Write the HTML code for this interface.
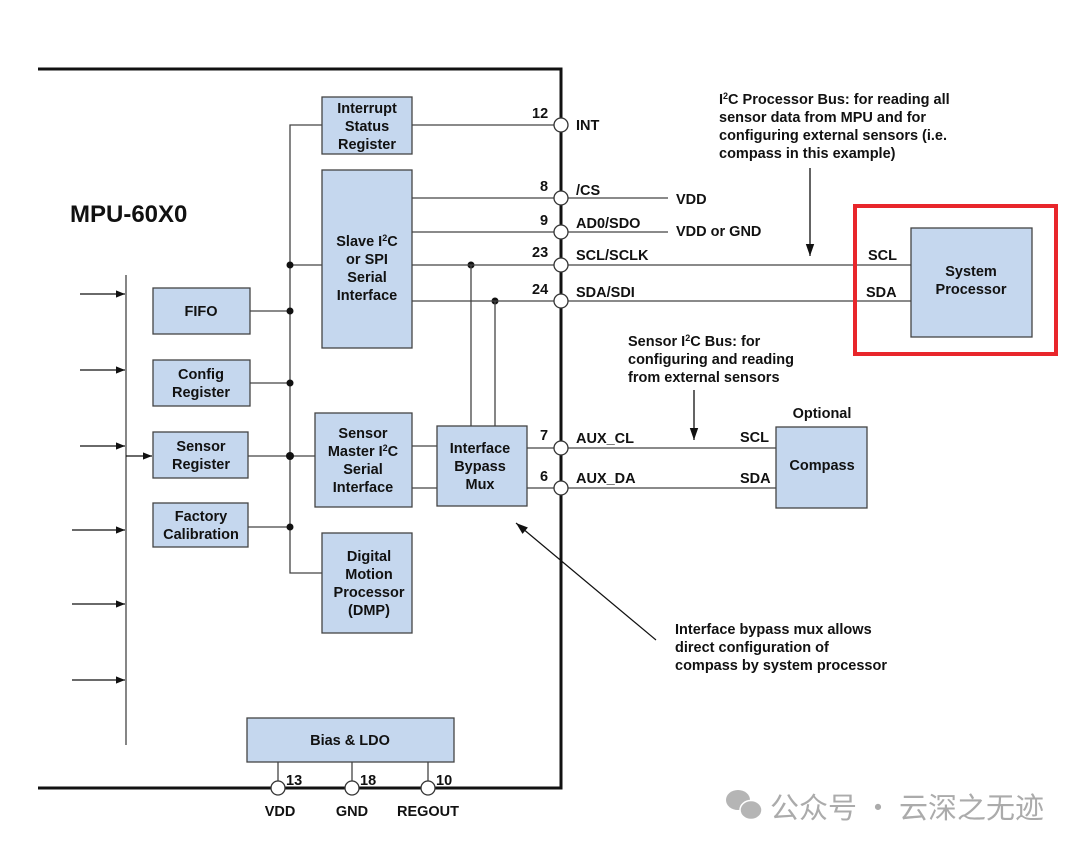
<!DOCTYPE html>
<html><head><meta charset="utf-8"><style>
html,body{margin:0;padding:0;background:#fff;}
svg{display:block;}
text{font-family:"Liberation Sans",Arial,sans-serif;font-weight:bold;fill:#111;}
.b{fill:#c5d7ee;stroke:#444;stroke-width:1.3;}
.l{stroke:#444;stroke-width:1.3;fill:none;}
.t{font-size:14.5px;}
.c{text-anchor:middle;}
</style></head><body>
<svg width="1080" height="850" viewBox="0 0 1080 850" xmlns="http://www.w3.org/2000/svg">
<defs>
<marker id="a" viewBox="0 0 10 10" refX="10" refY="5" markerWidth="9" markerHeight="9" orient="auto" markerUnits="userSpaceOnUse"><path d="M0,1 L10,5 L0,9 z" fill="#111"/></marker>
<marker id="a2" viewBox="0 0 10 10" refX="10" refY="5" markerWidth="14" markerHeight="12" orient="auto" markerUnits="userSpaceOnUse"><path d="M0,1.5 L10,5 L0,8.5 z" fill="#111"/></marker>
</defs>
<path d="M38,69 H561 V788 H38" fill="none" stroke="#111" stroke-width="3"/>
<text x="70" y="222" style="font-size:24px">MPU-60X0</text>

<line class="l" x1="126" y1="275" x2="126" y2="745"/>
<g stroke="#111" stroke-width="1.3" marker-end="url(#a)">
<line x1="80" y1="294" x2="125" y2="294"/>
<line x1="80" y1="370" x2="125" y2="370"/>
<line x1="80" y1="446" x2="125" y2="446"/>
<line x1="72" y1="530" x2="125" y2="530"/>
<line x1="72" y1="604" x2="125" y2="604"/>
<line x1="72" y1="680" x2="125" y2="680"/>
<line x1="126" y1="456" x2="152" y2="456"/>
</g>

<path class="l" d="M322,125 H290 V573 H322"/>
<line class="l" x1="250" y1="311" x2="290" y2="311"/>
<line class="l" x1="250" y1="383" x2="290" y2="383"/>
<line class="l" x1="248" y1="456" x2="315" y2="456"/>
<line class="l" x1="248" y1="527" x2="290" y2="527"/>
<line class="l" x1="290" y1="265" x2="322" y2="265"/>
<g fill="#111"><circle cx="290" cy="265" r="3.5"/><circle cx="290" cy="311" r="3.5"/><circle cx="290" cy="383" r="3.5"/><circle cx="290" cy="456" r="4"/><circle cx="290" cy="527" r="3.5"/>
<circle cx="471" cy="265" r="3.5"/><circle cx="495" cy="301" r="3.5"/></g>

<line class="l" x1="412" y1="125" x2="561" y2="125"/>
<line class="l" x1="412" y1="198" x2="668" y2="198"/>
<line class="l" x1="412" y1="232" x2="668" y2="232"/>
<line class="l" x1="412" y1="265" x2="911" y2="265"/>
<line class="l" x1="412" y1="301" x2="911" y2="301"/>
<line class="l" x1="471" y1="265" x2="471" y2="426"/>
<line class="l" x1="495" y1="301" x2="495" y2="426"/>
<line class="l" x1="412" y1="446" x2="437" y2="446"/>
<line class="l" x1="412" y1="488" x2="437" y2="488"/>
<line class="l" x1="527" y1="448" x2="776" y2="448"/>
<line class="l" x1="527" y1="488" x2="776" y2="488"/>

<rect class="b" x="322" y="97" width="90" height="57"/>
<text class="t c" x="367" y="113">Interrupt</text><text class="t c" x="367" y="131">Status</text><text class="t c" x="367" y="149">Register</text>
<rect class="b" x="322" y="170" width="90" height="178"/>
<text class="t c" x="367" y="246">Slave I<tspan dy="-5" style="font-size:9px">2</tspan><tspan dy="5">C</tspan></text><text class="t c" x="367" y="264">or SPI</text><text class="t c" x="367" y="282">Serial</text><text class="t c" x="367" y="300">Interface</text>
<rect class="b" x="153" y="288" width="97" height="46"/>
<text class="t c" x="201" y="316">FIFO</text>
<rect class="b" x="153" y="360" width="97" height="46"/>
<text class="t c" x="201" y="379">Config</text><text class="t c" x="201" y="397">Register</text>
<rect class="b" x="153" y="432" width="95" height="46"/>
<text class="t c" x="201" y="451">Sensor</text><text class="t c" x="201" y="469">Register</text>
<rect class="b" x="153" y="503" width="95" height="44"/>
<text class="t c" x="201" y="521">Factory</text><text class="t c" x="201" y="539">Calibration</text>
<rect class="b" x="315" y="413" width="97" height="94"/>
<text class="t c" x="363" y="438">Sensor</text><text class="t c" x="363" y="456">Master I<tspan dy="-5" style="font-size:9px">2</tspan><tspan dy="5">C</tspan></text><text class="t c" x="363" y="474">Serial</text><text class="t c" x="363" y="492">Interface</text>
<rect class="b" x="437" y="426" width="90" height="80"/>
<text class="t c" x="480" y="453">Interface</text><text class="t c" x="480" y="471">Bypass</text><text class="t c" x="480" y="489">Mux</text>
<rect class="b" x="322" y="533" width="90" height="100"/>
<text class="t c" x="369" y="561">Digital</text><text class="t c" x="369" y="579">Motion</text><text class="t c" x="369" y="597">Processor</text><text class="t c" x="369" y="615">(DMP)</text>
<rect class="b" x="247" y="718" width="207" height="44"/>
<text class="t c" x="350" y="745">Bias &amp; LDO</text>
<line class="l" x1="278" y1="762" x2="278" y2="788"/>
<line class="l" x1="352" y1="762" x2="352" y2="788"/>
<line class="l" x1="428" y1="762" x2="428" y2="788"/>

<g fill="#fff" stroke="#333" stroke-width="1.3">
<circle cx="561" cy="125" r="7"/><circle cx="561" cy="198" r="7"/><circle cx="561" cy="232" r="7"/><circle cx="561" cy="265" r="7"/><circle cx="561" cy="301" r="7"/><circle cx="561" cy="448" r="7"/><circle cx="561" cy="488" r="7"/>
<circle cx="278" cy="788" r="7"/><circle cx="352" cy="788" r="7"/><circle cx="428" cy="788" r="7"/>
</g>
<g class="t">
<text x="532" y="118" class="t">12</text><text x="540" y="191" class="t">8</text><text x="540" y="225" class="t">9</text><text x="532" y="257" class="t">23</text><text x="532" y="294" class="t">24</text><text x="540" y="440" class="t">7</text><text x="540" y="481" class="t">6</text>
<text x="576" y="130" class="t">INT</text><text x="576" y="195" class="t">/CS</text><text x="576" y="228" class="t">AD0/SDO</text><text x="576" y="260" class="t">SCL/SCLK</text><text x="576" y="297" class="t">SDA/SDI</text>
<text x="676" y="204" class="t">VDD</text><text x="676" y="236" class="t">VDD or GND</text>
<text x="576" y="443" class="t">AUX_CL</text><text x="576" y="483" class="t">AUX_DA</text>
<text x="740" y="442" class="t">SCL</text><text x="740" y="483" class="t">SDA</text>
<text x="868" y="260" class="t">SCL</text><text x="866" y="297" class="t">SDA</text>
<text x="286" y="785" class="t">13</text><text x="360" y="785" class="t">18</text><text x="436" y="785" class="t">10</text>
<text x="280" y="816" class="t c">VDD</text><text x="352" y="816" class="t c">GND</text><text x="428" y="816" class="t c">REGOUT</text>
</g>

<rect class="b" x="911" y="228" width="121" height="109"/>
<text class="t c" x="971" y="276">System</text><text class="t c" x="971" y="294">Processor</text>
<rect x="855" y="206" width="201" height="148" fill="none" stroke="#e8262b" stroke-width="4"/>

<rect class="b" x="776" y="427" width="91" height="81"/>
<text class="t c" x="822" y="470">Compass</text>
<text class="t c" x="822" y="418">Optional</text>

<text class="t" x="719" y="104">I<tspan dy="-5" style="font-size:9px">2</tspan><tspan dy="5">C Processor Bus: for reading all</tspan></text>
<text class="t" x="719" y="122">sensor data from MPU and for</text>
<text class="t" x="719" y="140">configuring external sensors (i.e.</text>
<text class="t" x="719" y="158">compass in this example)</text>
<line stroke="#111" stroke-width="1.3" x1="810" y1="168" x2="810" y2="256" marker-end="url(#a2)"/>
<text class="t" x="628" y="346">Sensor I<tspan dy="-5" style="font-size:9px">2</tspan><tspan dy="5">C Bus: for</tspan></text>
<text class="t" x="628" y="364">configuring and reading</text>
<text class="t" x="628" y="382">from external sensors</text>
<line stroke="#111" stroke-width="1.3" x1="694" y1="390" x2="694" y2="440" marker-end="url(#a2)"/>
<line stroke="#111" stroke-width="1.2" x1="656" y1="640" x2="516" y2="523" marker-end="url(#a2)"/>
<text class="t" x="675" y="634">Interface bypass mux allows</text>
<text class="t" x="675" y="652">direct configuration of</text>
<text class="t" x="675" y="670">compass by system processor</text>

<g fill="#b5b5b5">
<ellipse cx="738" cy="800" rx="12" ry="10"/>
<ellipse cx="751" cy="810" rx="11" ry="9.5" stroke="#fff" stroke-width="1.5"/>
</g>
<text x="770" y="818" style="font-family:'Noto Sans CJK SC','WenQuanYi Zen Hei',sans-serif;font-weight:normal;font-size:29px;fill:#ababab">公众号 · 云深之无迹</text>
</svg>
</body></html>
